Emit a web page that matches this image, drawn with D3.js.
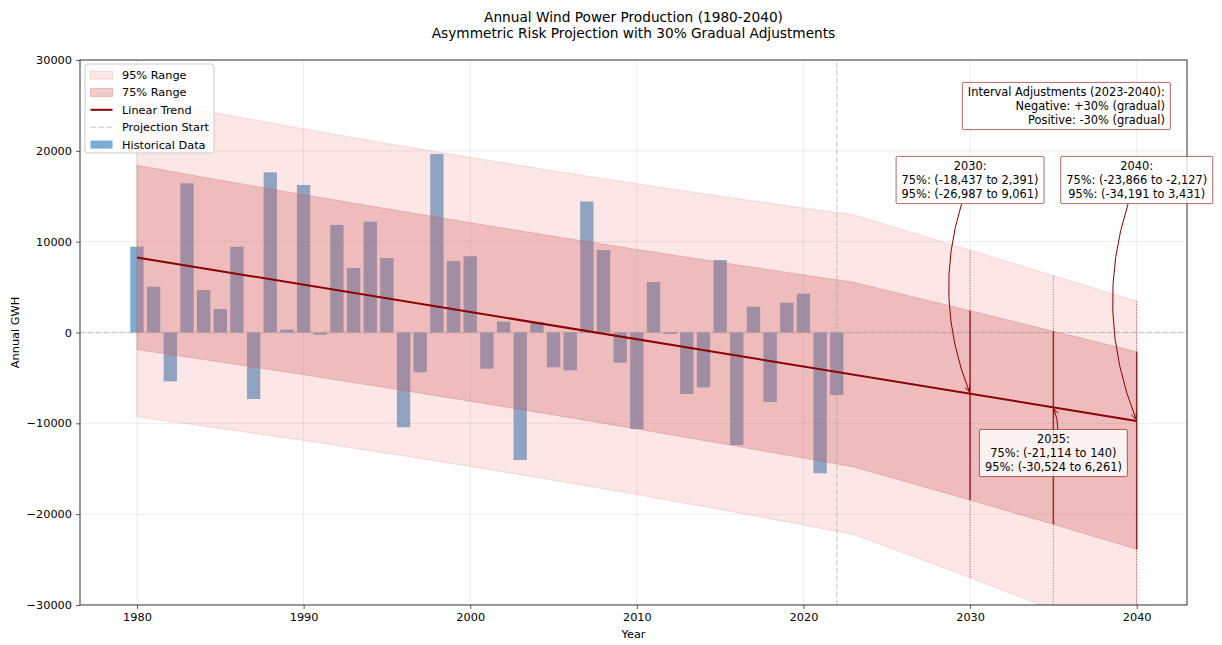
<!DOCTYPE html>
<html>
<head>
<meta charset="utf-8">
<script src="https://cdn.jsdelivr.net/npm/d3@7/dist/d3.min.js"></script>
<style>
  body { margin: 0; background: #fff; }
  svg { font-family: "DejaVu Sans", sans-serif; }
</style>
</head>
<body>
<div id="wrapper"></div>
<script>
// historical yearly production
const years = [1980, 1981, 1982, 1983, 1984, 1985, 1986, 1987, 1988, 1989,
  1990, 1991, 1992, 1993, 1994, 1995, 1996, 1997, 1998, 1999,
  2000, 2001, 2002, 2003, 2004, 2005, 2006, 2007, 2008, 2009,
  2010, 2011, 2012, 2013, 2014, 2015, 2016, 2017, 2018, 2019,
  2020, 2021, 2022];
const production = [9450, 5040, -5370, 16420, 4680, 2590, 9450, -7320, 17630, 310,
  16240, -240, 11840, 7100, 12200, 8200, -10440, -4380, 19650, 7870,
  8390, -3980, 1190, -14040, 1150, -3830, -4160, 14420, 9080, -3320,
  -10620, 5560, -165, -6770, -6040, 7980, -12390, 2840, -7650, 3280,
  4270, -15500, -6880];

// range bands (read at these years)
const bandYears = [1980, 1985, 1990, 1995, 2000, 2005, 2010, 2015, 2020, 2023, 2026, 2030, 2035, 2040];
const lower95 = [-9282, -10555, -11888, -13282, -14739, -16258, -17839, -19481, -21185, -22234, -24245, -26987, -30524, -34191];
const upper95 = [25808, 24081, 22414, 20808, 19265, 17784, 16365, 15007, 13711, 12960, 11289, 9061, 6261, 3431];
const lower75 = [-1874, -3243, -4647, -6085, -7560, -9071, -10618, -12200, -13818, -14804, -16345, -18437, -21114, -23866];
const upper75 = [18400, 16769, 15173, 13611, 12086, 10597, 9144, 7726, 6344, 5530, 4185, 2391, 140, -2127];

// linear trend
const trendYears = [1980, 2040];
const trendValues = [8263, -9737];
const projectionStart = 2022;

// annotated years
const markYears = [2030, 2035, 2040];
const markTrend = [-6737, -8237, -9737];
const mark75 = [[-18437, 2391], [-21114, 140], [-23866, -2127]];
const mark95 = [[-26987, 9061], [-30524, 6261], [-34191, 3431]];

const xTicks = [1980, 1990, 2000, 2010, 2020, 2030, 2040];
const yTicks = [-30000, -20000, -10000, 0, 10000, 20000, 30000];
const titleLines = ["Annual Wind Power Production (1980-2040)", "Asymmetric Risk Projection with 30% Gradual Adjustments"];
const adjustLines = ["Interval Adjustments (2023-2040):", "Negative: +30% (gradual)", "Positive: -30% (gradual)"];
const legendLabels = ["95% Range", "75% Range", "Linear Trend", "Projection Start", "Historical Data"];

const colors = {
  bar: "#1f77b4",
  band95: "#f08080",
  band75: "#cd5c5c",
  trend: "#8b0000",
  guide: "#9a9a9a"
};

const dimensions = {
  width: 1222,
  height: 645,
  margin: { top: 60, right: 35, bottom: 40, left: 80 }
};
dimensions.boundedWidth = dimensions.width - dimensions.margin.left - dimensions.margin.right;
dimensions.boundedHeight = dimensions.height - dimensions.margin.top - dimensions.margin.bottom;

const fmt = d3.formatLocale({ decimal: ".", thousands: ",", grouping: [3], currency: ["", ""], minus: "-" }).format(",");

const svg = d3.select("#wrapper").append("svg")
  .attr("width", dimensions.width)
  .attr("height", dimensions.height);

const x = d3.scaleLinear()
  .domain([1976.58, 2043.02])
  .range([dimensions.margin.left, dimensions.margin.left + dimensions.boundedWidth]);
const y = d3.scaleLinear()
  .domain([-30000, 30000])
  .range([dimensions.margin.top + dimensions.boundedHeight, dimensions.margin.top]);

svg.append("clipPath").attr("id", "plotclip")
  .append("rect")
  .attr("x", x.range()[0]).attr("y", y.range()[1])
  .attr("width", dimensions.boundedWidth).attr("height", dimensions.boundedHeight);

const plot = svg.append("g").attr("clip-path", "url(#plotclip)");

// grid
plot.append("g").selectAll("line").data(xTicks).join("line")
  .attr("x1", d => x(d)).attr("x2", d => x(d))
  .attr("y1", y.range()[0]).attr("y2", y.range()[1])
  .attr("stroke", "#b0b0b0").attr("stroke-opacity", 0.3).attr("stroke-width", 0.8);
plot.append("g").selectAll("line").data(yTicks).join("line")
  .attr("x1", x.range()[0]).attr("x2", x.range()[1])
  .attr("y1", d => y(d)).attr("y2", d => y(d))
  .attr("stroke", "#b0b0b0").attr("stroke-opacity", 0.3).attr("stroke-width", 0.8);

// bars
const barData = years.map((yr, i) => ({ year: yr, value: production[i] }));
plot.append("g").selectAll("rect").data(barData).join("rect")
  .attr("x", d => x(d.year - 0.4))
  .attr("width", d => x(d.year + 0.4) - x(d.year - 0.4))
  .attr("y", d => y(Math.max(0, d.value)))
  .attr("height", d => Math.abs(y(d.value) - y(0)))
  .attr("fill", colors.bar)
  .attr("fill-opacity", 0.6);

// bands
const bandData = bandYears.map((yr, i) => ({
  year: yr, lo95: lower95[i], hi95: upper95[i], lo75: lower75[i], hi75: upper75[i]
}));
const area95 = d3.area().x(d => x(d.year)).y0(d => y(d.lo95)).y1(d => y(d.hi95));
const area75 = d3.area().x(d => x(d.year)).y0(d => y(d.lo75)).y1(d => y(d.hi75));
plot.append("path").datum(bandData)
  .attr("d", area95)
  .attr("fill", colors.band95).attr("fill-opacity", 0.2)
  .attr("stroke", colors.band95).attr("stroke-opacity", 0.25).attr("stroke-width", 1);
plot.append("path").datum(bandData)
  .attr("d", area75)
  .attr("fill", colors.band75).attr("fill-opacity", 0.3)
  .attr("stroke", colors.band75).attr("stroke-opacity", 0.3).attr("stroke-width", 1);

// zero line and projection start
plot.append("line")
  .attr("x1", x.range()[0]).attr("x2", x.range()[1])
  .attr("y1", y(0)).attr("y2", y(0))
  .attr("stroke", colors.guide).attr("stroke-opacity", 0.4)
  .attr("stroke-width", 1.5).attr("stroke-dasharray", "5.5,2.4");
plot.append("line")
  .attr("x1", x(projectionStart)).attr("x2", x(projectionStart))
  .attr("y1", y.range()[0]).attr("y2", y.range()[1])
  .attr("stroke", colors.guide).attr("stroke-opacity", 0.4)
  .attr("stroke-width", 1.5).attr("stroke-dasharray", "5.5,2.4");

// range markers at annotated years
const markData = markYears.map((yr, i) => ({
  year: yr, trend: markTrend[i], r75: mark75[i], r95: mark95[i]
}));
plot.append("g").selectAll("line").data(markData).join("line")
  .attr("x1", d => x(d.year)).attr("x2", d => x(d.year))
  .attr("y1", d => y(d.r95[0])).attr("y2", d => y(d.r95[1]))
  .attr("stroke", colors.trend).attr("stroke-opacity", 0.55)
  .attr("stroke-width", 1).attr("stroke-dasharray", "1,1.6");
plot.append("g").selectAll("line").data(markData).join("line")
  .attr("x1", d => x(d.year)).attr("x2", d => x(d.year))
  .attr("y1", d => y(d.r75[0])).attr("y2", d => y(d.r75[1]))
  .attr("stroke", colors.trend).attr("stroke-opacity", 0.75)
  .attr("stroke-width", 1.5);

// trend line
const trendData = trendYears.map((yr, i) => ({ year: yr, value: trendValues[i] }));
plot.append("path").datum(trendData)
  .attr("d", d3.line().x(d => x(d.year)).y(d => y(d.value)))
  .attr("fill", "none")
  .attr("stroke", colors.trend)
  .attr("stroke-width", 2);

// axes frame
const xAxis = svg.append("g")
  .attr("transform", `translate(0,${y.range()[0]})`)
  .call(d3.axisBottom(x).tickValues(xTicks).tickFormat(d3.format("d")).tickSize(4).tickPadding(4));
const yAxis = svg.append("g")
  .attr("transform", `translate(${x.range()[0]},0)`)
  .call(d3.axisLeft(y).tickValues(yTicks).tickFormat(d3.format("d")).tickSize(4).tickPadding(4));
[xAxis, yAxis].forEach(ax => {
  ax.select(".domain").remove();
  ax.selectAll("text").attr("font-size", "11.3px").attr("fill", "#000").attr("font-family", "DejaVu Sans");
  ax.selectAll("line").attr("stroke", "#333").attr("stroke-width", 0.8);
});
svg.append("rect")
  .attr("x", x.range()[0]).attr("y", y.range()[1])
  .attr("width", dimensions.boundedWidth).attr("height", dimensions.boundedHeight)
  .attr("fill", "none").attr("stroke", "#333").attr("stroke-width", 1);

svg.append("text")
  .attr("x", (x.range()[0] + x.range()[1]) / 2).attr("y", 638)
  .attr("text-anchor", "middle").attr("font-size", "11.3px")
  .text("Year");
svg.append("text")
  .attr("transform", `translate(19,${(y.range()[0] + y.range()[1]) / 2}) rotate(-90)`)
  .attr("text-anchor", "middle").attr("font-size", "11.3px")
  .text("Annual GWH");

// title
svg.append("g").selectAll("text").data(titleLines).join("text")
  .attr("x", (x.range()[0] + x.range()[1]) / 2)
  .attr("y", (d, i) => 22 + i * 16)
  .attr("text-anchor", "middle")
  .attr("font-size", "13.7px")
  .text(d => d);

// helper: draw a text box with padding
function boxedText(g, lines, cx, cy, anchor) {
  const lineH = 13.6;
  const t = g.append("text")
    .attr("font-size", "11.4px")
    .attr("text-anchor", anchor);
  lines.forEach((s, i) => {
    t.append("tspan")
      .attr("x", cx)
      .attr("y", cy + (i - (lines.length - 1) / 2) * lineH + 4)
      .text(s);
  });
  const bb = t.node().getBBox();
  const pad = 4;
  const box = { x: bb.x - pad - 1.5, y: bb.y - pad + 1, w: bb.width + 2 * pad + 3, h: bb.height + 2 * pad - 2 };
  g.insert("rect", "text")
    .attr("x", box.x).attr("y", box.y)
    .attr("width", box.w).attr("height", box.h)
    .attr("rx", 1.5)
    .attr("fill", "#fff").attr("fill-opacity", 0.8)
    .attr("stroke", colors.trend).attr("stroke-opacity", 0.6).attr("stroke-width", 1);
  return box;
}

// curved arrow, arc3 style, starting where it leaves the box
function curvedArrow(g, p0, p2, rad, box) {
  const mx = (p0[0] + p2[0]) / 2, my = (p0[1] + p2[1]) / 2;
  const c = [mx - rad * (p2[1] - p0[1]), my + rad * (p2[0] - p0[0])];
  const at = t => [
    (1 - t) * (1 - t) * p0[0] + 2 * (1 - t) * t * c[0] + t * t * p2[0],
    (1 - t) * (1 - t) * p0[1] + 2 * (1 - t) * t * c[1] + t * t * p2[1]
  ];
  let t0 = 0;
  for (let t = 0; t <= 1; t += 0.002) {
    const p = at(t);
    if (p[0] < box.x || p[0] > box.x + box.w || p[1] < box.y || p[1] > box.y + box.h) { t0 = t; break; }
  }
  // shrink the end by 2px
  let t1 = 1;
  for (let t = 1; t > t0; t -= 0.002) {
    const p = at(t);
    if (Math.hypot(p[0] - p2[0], p[1] - p2[1]) >= 2) { t1 = t; break; }
  }
  const s = at(t0), e = at(t1);
  // control point of the sub-curve between t0 and t1
  const q1 = [(1 - t0) * c[0] + t0 * p2[0], (1 - t0) * c[1] + t0 * p2[1]];
  const tt = (t1 - t0) / (1 - t0);
  const cAdj = [(1 - tt) * s[0] + tt * q1[0], (1 - tt) * s[1] + tt * q1[1]];
  const path = d3.path();
  path.moveTo(s[0], s[1]);
  path.quadraticCurveTo(cAdj[0], cAdj[1], e[0], e[1]);
  g.append("path").attr("d", path.toString())
    .attr("fill", "none").attr("stroke", colors.trend).attr("stroke-width", 1);
  const ang = Math.atan2(e[1] - cAdj[1], e[0] - cAdj[0]);
  const L = 6, W = 0.45;
  const head = d3.path();
  head.moveTo(e[0] - L * Math.cos(ang - W), e[1] - L * Math.sin(ang - W));
  head.lineTo(e[0], e[1]);
  head.lineTo(e[0] - L * Math.cos(ang + W), e[1] - L * Math.sin(ang + W));
  g.append("path").attr("d", head.toString())
    .attr("fill", "none").attr("stroke", colors.trend).attr("stroke-width", 1);
}

// annotations
const noteY = [180, 453, 180];
const notes = svg.append("g");
markData.forEach((d, i) => {
  const lines = [
    `${d.year}:`,
    `75%: (${fmt(d.r75[0])} to ${fmt(d.r75[1])})`,
    `95%: (${fmt(d.r95[0])} to ${fmt(d.r95[1])})`
  ];
  const g = notes.append("g");
  const cx = x(d.year), cy = noteY[i];
  const arrowG = g.append("g");
  const boxG = g.append("g");
  const box = boxedText(boxG, lines, cx, cy, "middle");
  curvedArrow(arrowG, [cx, cy], [x(d.year), y(d.trend)], 0.2, box);
});

// adjustments box
boxedText(svg.append("g"), adjustLines, x.range()[0] + 0.98 * dimensions.boundedWidth, 106, "end");

// legend
const legend = svg.append("g").attr("transform", "translate(85,64)");
legend.append("rect")
  .attr("width", 129).attr("height", 89).attr("rx", 3)
  .attr("fill", "#fff").attr("fill-opacity", 0.8)
  .attr("stroke", "#cccccc").attr("stroke-width", 1);
const rowY = i => 11 + i * 17.4;
legendLabels.forEach((label, i) => {
  const row = legend.append("g").attr("transform", `translate(0,${rowY(i)})`);
  if (i === 0 || i === 1 || i === 4) {
    const fill = i === 0 ? colors.band95 : i === 1 ? colors.band75 : colors.bar;
    const op = i === 0 ? 0.2 : i === 1 ? 0.3 : 0.6;
    row.append("rect")
      .attr("x", 5.5).attr("y", -4).attr("width", 22).attr("height", 8)
      .attr("fill", fill).attr("fill-opacity", op)
      .attr("stroke", fill).attr("stroke-opacity", i === 4 ? 0 : op + 0.05);
  } else {
    row.append("line")
      .attr("x1", 5.5).attr("x2", 27.5)
      .attr("stroke", i === 2 ? colors.trend : colors.guide)
      .attr("stroke-opacity", i === 2 ? 1 : 0.4)
      .attr("stroke-width", i === 2 ? 2 : 1.5)
      .attr("stroke-dasharray", i === 3 ? "5.5,2.4" : null);
  }
  row.append("text")
    .attr("x", 37).attr("y", 4)
    .attr("font-size", "11.3px")
    .text(label);
});
</script>
</body>
</html>
